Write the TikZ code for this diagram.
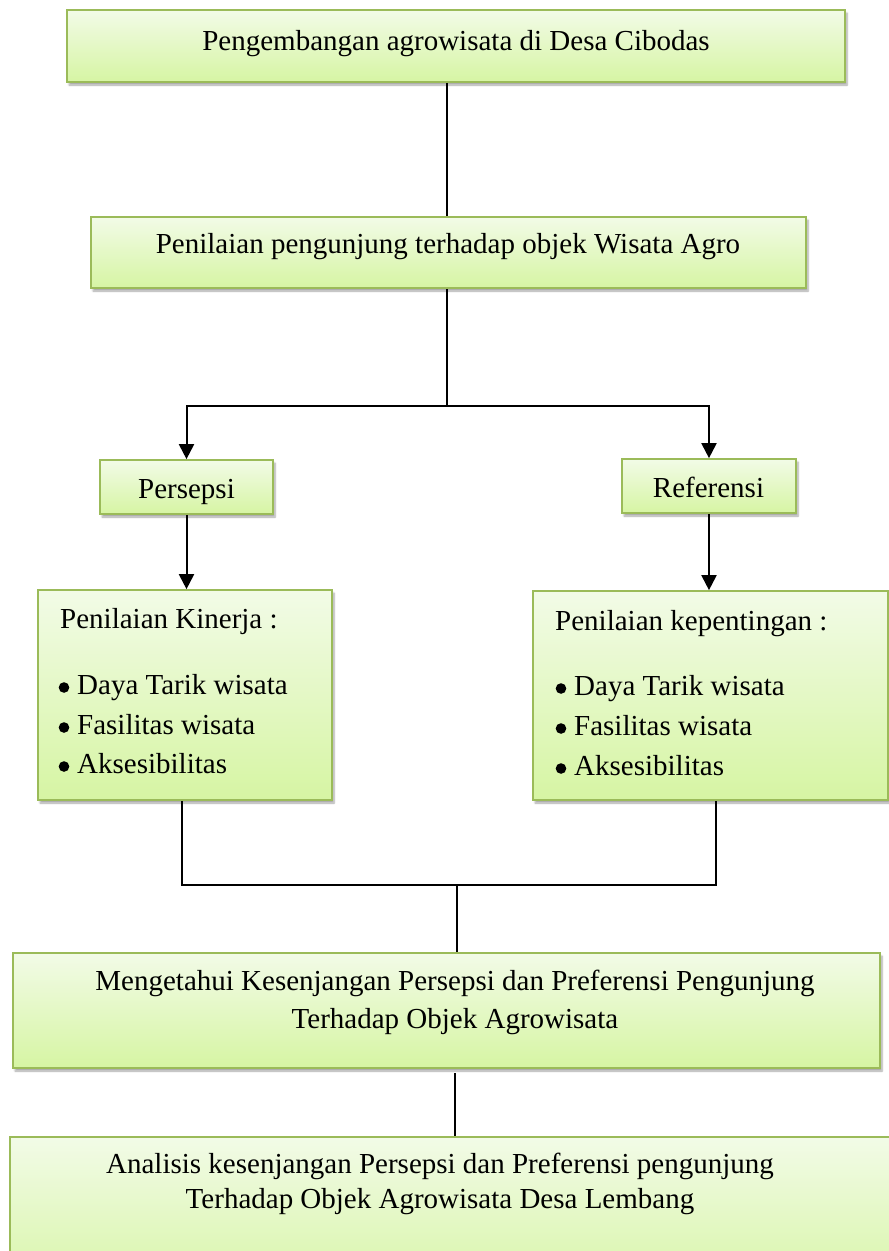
\documentclass[tikz,border=0pt]{standalone}
\usepackage{fontspec}
\setmainfont{Liberation Serif}
\usetikzlibrary{arrows.meta,shadows.blur}
\definecolor{boxborder}{HTML}{9BBB59}
\definecolor{boxtop}{HTML}{F2FBE7}
\definecolor{boxbot}{HTML}{D6F5A3}
\tikzset{
  greenbox/.style={rectangle, draw=boxborder, line width=1.7pt, top color=boxtop, bottom color=boxbot,
    inner sep=0pt, blur shadow={shadow xshift=2pt, shadow yshift=-3pt, shadow opacity=35, shadow blur steps=6}},
  boxtext/.style={anchor=base, inner sep=0pt, font=\fontsize{29}{35}\selectfont},
  listtext/.style={anchor=base west, inner sep=0pt, font=\fontsize{29}{35}\selectfont},
  conn/.style={line width=2pt, black},
  arr/.style={conn, -{Triangle[length=15pt,width=15pt]}},
  bulletdot/.style={fill=black}
}
\begin{document}
\begin{tikzpicture}[x=1pt,y=-1pt]
\useasboundingbox (0,0) rectangle (889,1251);
% boxes
\node[greenbox, minimum width=778pt, minimum height=72pt] (b1) at (456,46) {};
\node[greenbox, minimum width=715pt, minimum height=71pt] (b2) at (448.5,252.5) {};
\node[greenbox, minimum width=173pt, minimum height=54pt] (pers) at (186.5,487) {};
\node[greenbox, minimum width=174pt, minimum height=54pt] (ref) at (709,486) {};
\node[greenbox, minimum width=294pt, minimum height=210pt] (b3) at (185,695) {};
\node[greenbox, minimum width=355pt, minimum height=209pt] (b4) at (710.5,695.5) {};
\node[greenbox, minimum width=867pt, minimum height=115pt] (b5) at (446.5,1010.5) {};
\node[greenbox, minimum width=885pt, minimum height=163pt] (b6) at (452.5,1218.5) {};
% texts
\node[boxtext] (t1) at (456,50) {Pengembangan agrowisata di Desa Cibodas};
\node[boxtext] (t2) at (448,253) {Penilaian pengunjung terhadap objek Wisata Agro};
\node[boxtext] (tp) at (186.5,498) {Persepsi};
\node[boxtext] (tr) at (708.5,497) {Referensi};
\node[listtext] (l0) at (60,628) {Penilaian Kinerja :};
\node[listtext] (l1) at (77,694) {Daya Tarik wisata};
\node[listtext] (l2) at (77,734) {Fasilitas wisata};
\node[listtext] (l3) at (77,773) {Aksesibilitas};
\node[listtext] (r0) at (555,630) {Penilaian kepentingan :};
\node[listtext] (r1) at (574,695) {Daya Tarik wisata};
\node[listtext] (r2) at (574,735) {Fasilitas wisata};
\node[listtext] (r3) at (574,775) {Aksesibilitas};
% bullets
\fill[bulletdot] (64,687.5) circle (5.3pt);
\fill[bulletdot] (64,727.5) circle (5.3pt);
\fill[bulletdot] (64,766.5) circle (5.3pt);
\fill[bulletdot] (561,688.5) circle (5.3pt);
\fill[bulletdot] (561,728.5) circle (5.3pt);
\fill[bulletdot] (561,768.5) circle (5.3pt);
\node[boxtext] (t5a) at (455,990) {Mengetahui Kesenjangan Persepsi dan Preferensi Pengunjung};
\node[boxtext] (t5b) at (455,1028.5) {Terhadap Objek Agrowisata};
\node[boxtext] (t6a) at (440,1173) {Analisis kesenjangan Persepsi dan Preferensi pengunjung};
\node[boxtext] (t6b) at (440,1208) {Terhadap Objek Agrowisata Desa Lembang};
% connector coordinates
\coordinate (c1) at (447,0);
\coordinate (split) at (447,406);
\coordinate (mL) at (182,885);
\coordinate (mR) at (716,885);
\coordinate (merge) at (457,885);
\coordinate (c5) at (455,1073);
% connectors
\draw[conn] (c1 |- b1.south) -- (c1 |- b2.north);
\draw[conn] (c1 |- b2.south) -- (split);
\draw[arr] (split) -| (pers.north);
\draw[arr] (split) -| (ref.north);
\draw[arr] (pers.south) -- (pers.south |- b3.north);
\draw[arr] (ref.south) -- (ref.south |- b4.north);
\draw[conn] (mL |- b3.south) -- (mL) -- (mR) -- (mR |- b4.south);
\draw[conn] (merge) -- (merge |- b5.north);
\draw[conn] (c5) -- (c5 |- b6.north);
\end{tikzpicture}
\end{document}
